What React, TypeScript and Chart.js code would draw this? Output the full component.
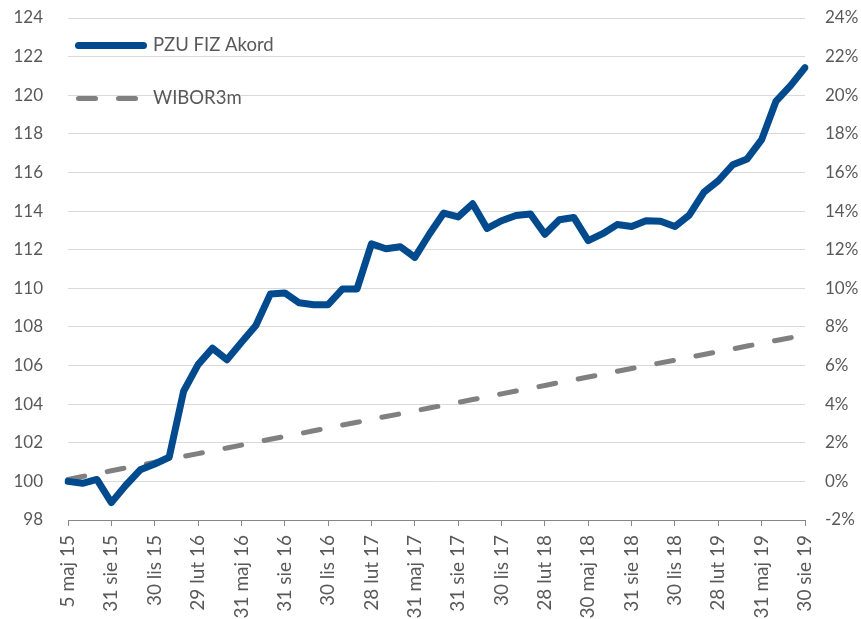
import { useEffect, useRef } from 'react';
import { Chart, registerables } from 'chart.js';

Chart.register(...registerables);

const categories = [
  '5 maj 15', '30 cze 15', '31 lip 15', '31 sie 15', '30 wrz 15', '30 paź 15', '30 lis 15', '31 gru 15',
  '29 sty 16', '29 lut 16', '31 mar 16', '29 kwi 16', '31 maj 16', '30 cze 16', '29 lip 16', '31 sie 16',
  '30 wrz 16', '31 paź 16', '30 lis 16', '30 gru 16',
  '31 sty 17', '28 lut 17', '31 mar 17', '28 kwi 17', '31 maj 17', '30 cze 17', '31 lip 17', '31 sie 17',
  '29 wrz 17', '31 paź 17', '30 lis 17', '29 gru 17',
  '31 sty 18', '28 lut 18', '30 mar 18', '30 kwi 18', '30 maj 18', '29 cze 18', '31 lip 18', '31 sie 18',
  '28 wrz 18', '31 paź 18', '30 lis 18', '31 gru 18',
  '31 sty 19', '28 lut 19', '29 mar 19', '30 kwi 19', '31 maj 19', '28 cze 19', '31 lip 19', '30 sie 19',
];

const tickEvery = 3;

const pzuValues = [
  100.0, 99.9, 100.1, 98.9, 99.8, 100.6, 100.9, 101.25, 104.67, 106.05,
  106.9, 106.3, 107.2, 108.07, 109.7, 109.76, 109.25, 109.15, 109.15, 109.97,
  109.97, 112.3, 112.05, 112.15, 111.6, 112.8, 113.9, 113.7, 114.38, 113.1,
  113.5, 113.77, 113.85, 112.8, 113.55, 113.67, 112.47, 112.83, 113.3, 113.2,
  113.5, 113.47, 113.2, 113.8, 114.97, 115.57, 116.4, 116.7, 117.7, 119.7,
  120.5, 121.43,
];

const wiborValues = [
  0.1, 0.25, 0.4, 0.55, 0.7, 0.84, 0.99, 1.14, 1.29, 1.44,
  1.59, 1.73, 1.88, 2.03, 2.18, 2.33, 2.47, 2.62, 2.77, 2.92,
  3.06, 3.21, 3.36, 3.5, 3.65, 3.8, 3.94, 4.09, 4.24, 4.38,
  4.53, 4.68, 4.82, 4.97, 5.12, 5.26, 5.41, 5.55, 5.7, 5.85,
  5.99, 6.14, 6.28, 6.43, 6.57, 6.72, 6.86, 7.01, 7.15, 7.3,
  7.44, 7.6,
];

const seriesNames = ['PZU FIZ Akord', 'WIBOR3m'];

const TEXT = '#595959';
const AXIS = '#868686';
const GRID = '#d9d9d9';
const FONT = 'Lato, "Open Sans", sans-serif';
const Y_FONT = 17;
const X_FONT = 19;
const LEGEND_FONT = 18.5;

const inlineLegend = {
  id: 'inlineLegend',
  afterDatasetsDraw(chart: any) {
    const { ctx, chartArea } = chart;
    ctx.save();
    chart.data.datasets.forEach((ds: any, i: number) => {
      const y = chartArea.top + 27.5 + i * 53;
      const x0 = chartArea.left + 10.5;
      const x1 = x0 + 65;
      ctx.beginPath();
      ctx.setLineDash(ds.borderDash || []);
      ctx.lineCap = 'round';
      ctx.lineWidth = ds.borderWidth;
      ctx.strokeStyle = ds.borderColor;
      ctx.moveTo(x0, y);
      ctx.lineTo(x1, y);
      ctx.stroke();
      ctx.setLineDash([]);
      ctx.fillStyle = TEXT;
      ctx.font = `${LEGEND_FONT}px ${FONT}`;
      ctx.textBaseline = 'middle';
      ctx.textAlign = 'left';
      ctx.fillText(ds.label, chartArea.left + 85, y);
    });
    ctx.restore();
  },
};

const clearPadding = (s: any) => {
  s.paddingTop = 0;
  s.paddingBottom = 0;
  s.paddingLeft = 0;
  s.paddingRight = 0;
};

export default function App() {
  const canvasRef = useRef<HTMLCanvasElement | null>(null);

  useEffect(() => {
    if (!canvasRef.current) return;
    const chart = new Chart(canvasRef.current, {
      type: 'line',
      data: {
        labels: categories,
        datasets: [
          {
            label: seriesNames[0],
            data: pzuValues,
            yAxisID: 'y',
            borderColor: '#004A8D',
            backgroundColor: '#004A8D',
            borderWidth: 7,
            borderCapStyle: 'round',
            borderJoinStyle: 'round',
            pointRadius: 0,
            tension: 0,
            fill: false,
          },
          {
            label: seriesNames[1],
            data: wiborValues,
            yAxisID: 'y1',
            borderColor: '#808080',
            backgroundColor: '#808080',
            borderWidth: 5,
            borderDash: [17, 23],
            borderCapStyle: 'round',
            pointRadius: 0,
            tension: 0,
            fill: false,
          },
        ],
      },
      options: {
        responsive: false,
        animation: false,
        layout: { padding: { top: 18, left: 0, right: 0, bottom: 0 } },
        plugins: {
          legend: { display: false },
          tooltip: { enabled: false },
        },
        scales: {
          x: {
            type: 'category',
            grid: {
              display: true,
              drawOnChartArea: false,
              drawTicks: true,
              tickLength: 6,
              color: (c: any) => (c.index % tickEvery === 0 ? AXIS : 'rgba(0,0,0,0)'),
            },
            border: { display: true, color: AXIS, width: 1 },
            ticks: {
              autoSkip: false,
              maxRotation: 90,
              minRotation: 90,
              padding: 9,
              color: TEXT,
              font: { family: FONT, size: X_FONT },
              callback: (_v: any, i: number) => (i % tickEvery === 0 ? categories[i] : ''),
            },
            afterFit: (s: any) => {
              s.height = 99;
              clearPadding(s);
            },
          },
          y: {
            position: 'left',
            min: 98,
            max: 124,
            ticks: {
              stepSize: 2,
              padding: 25,
              color: TEXT,
              font: { family: FONT, size: Y_FONT },
            },
            grid: {
              drawTicks: false,
              lineWidth: 1,
              color: (c: any) => (c.tick && c.tick.value === 98 ? 'rgba(0,0,0,0)' : GRID),
            },
            border: { display: false },
            afterFit: (s: any) => {
              s.width = 68;
              clearPadding(s);
            },
          },
          y1: {
            position: 'right',
            min: -2,
            max: 24,
            ticks: {
              stepSize: 2,
              padding: 20,
              color: TEXT,
              font: { family: FONT, size: Y_FONT },
              callback: (v: any) => `${v}%`,
            },
            grid: { display: false, drawTicks: false },
            border: { display: false },
            afterFit: (s: any) => {
              s.width = 56;
              clearPadding(s);
            },
          },
        },
      },
      plugins: [inlineLegend],
    });
    return () => chart.destroy();
  }, []);

  return (
    <div style={{ position: 'fixed', left: 0, top: 0, width: 861, height: 619, background: '#fff' }}>
      <canvas ref={canvasRef} width={861} height={619} style={{ display: 'block' }} />
    </div>
  );
}
